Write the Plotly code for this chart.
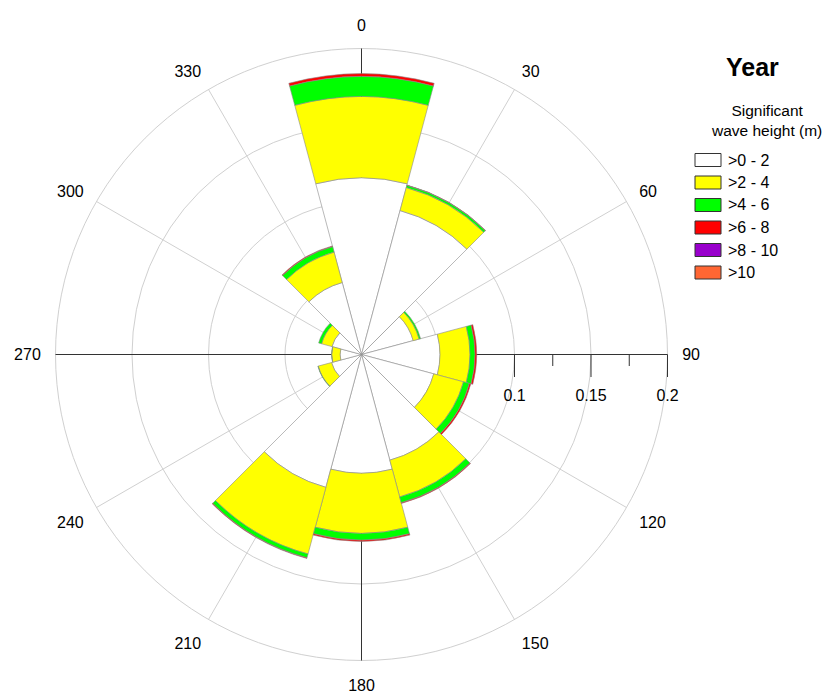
import plotly.graph_objects as go

# ---------------- data ----------------
directions = [0, 30, 60, 90, 120, 150, 180, 210, 240, 270, 300, 330]
direction_labels = ["0", "30", "60", "90", "120", "150", "180", "210", "240", "270", "300", "330"]

height_classes = [">0 - 2", ">2 - 4", ">4 - 6", ">6 - 8", ">8 - 10", ">10"]
class_colors = ["#FFFFFF", "#FFFF00", "#00FF00", "#FF0000", "#9900CC", "#FF6633"]

freq_0_2 = [0.1155, 0.0974, 0.0350, 0.0513, 0.0489, 0.0715, 0.0776, 0.0899, 0.0203, 0.0140, 0.0200, 0.0487]
freq_2_4 = [0.0531, 0.0156, 0.0040, 0.0196, 0.0201, 0.0249, 0.0393, 0.0451, 0.0090, 0.0055, 0.0070, 0.0206]
freq_4_6 = [0.0131, 0.0015, 0.0010, 0.0033, 0.0040, 0.0039, 0.0044, 0.0026, 0.0002, 0.0001, 0.0020, 0.0037]
freq_6_8 = [0.0018, 0.0002, 0.0000, 0.0011, 0.0010, 0.0005, 0.0009, 0.0004, 0.0000, 0.0000, 0.0000, 0.0005]
freq_8_10 = [0.0000] * 12
freq_10 = [0.0000] * 12
class_freqs = [freq_0_2, freq_2_4, freq_4_6, freq_6_8, freq_8_10, freq_10]

radial_max = 0.2
radial_major = [0, 0.05, 0.1, 0.15, 0.2]
radial_major_visible = [0.1, 0.15, 0.2]
radial_minor = [0.125, 0.175]

title_text = "Year"
legend_title = "Significant<br>wave height (m)"

# ---------------- geometry ----------------
W, H = 833, 693
cx, cy, R = 361.5, 354.5, 306.0
dom_x = [(cx - R) / W, (cx + R) / W]
dom_y = [(H - cy - R) / H, (H - cy + R) / H]


def px(x):
    return x / W


def py(y):
    return 1 - y / H


FONT = "Arial, Liberation Sans, sans-serif"
GRID = "#d0d0d0"
AX = "#333333"
CLEAR = "rgba(0,0,0,0)"

fig = go.Figure()

# empty carriers so the overlay polar layers get drawn
for sp in ["polar", "polar2"]:
    fig.add_trace(go.Scatterpolar(r=[0], theta=[0], mode="markers", subplot=sp,
                                  marker=dict(opacity=0, size=1), hoverinfo="skip",
                                  showlegend=False))

for name, col, vals in zip(height_classes, class_colors, class_freqs):
    fig.add_trace(go.Barpolar(
        r=vals, theta=directions, width=[30] * len(directions),
        name=name, subplot="polar3", showlegend=False,
        marker=dict(color=col, line=dict(color="#8a8a8a", width=0.6)),
    ))

fig.add_trace(go.Scatterpolar(r=[0], theta=[0], mode="markers", subplot="polar4",
                              marker=dict(opacity=0, size=1), hoverinfo="skip",
                              showlegend=False))

common_ang = dict(direction="clockwise", rotation=90)
hidden_ang = dict(**common_ang, showgrid=False, showline=False, ticks="", showticklabels=False)

fig.update_layout(
    width=W, height=H,
    margin=dict(l=0, r=0, t=0, b=0),
    paper_bgcolor="white",
    font=dict(family=FONT, size=16, color="black"),
    polar=dict(
        domain=dict(x=dom_x, y=dom_y),
        bgcolor="white",
        angularaxis=dict(
            **common_ang,
            tickmode="array", tickvals=directions, ticktext=direction_labels,
            showgrid=True, gridcolor=GRID, gridwidth=1,
            showline=True, linecolor=GRID, linewidth=1,
            ticks="outside", ticklen=11, tickcolor=CLEAR,
            tickfont=dict(family=FONT, size=16, color="black"),
        ),
        radialaxis=dict(
            range=[0, radial_max], tickmode="array", tickvals=radial_major[1:],
            showgrid=True, gridcolor=GRID, gridwidth=1,
            showline=False, ticks="", showticklabels=False,
        ),
    ),
    polar2=dict(
        domain=dict(x=dom_x, y=dom_y),
        bgcolor=CLEAR,
        angularaxis=dict(
            **common_ang,
            tickmode="array", tickvals=[0, 90, 180, 270],
            showgrid=True, gridcolor=AX, gridwidth=1.2,
            showline=False, ticks="", showticklabels=False,
        ),
        radialaxis=dict(
            range=[0, radial_max], angle=0, tickmode="array", tickvals=radial_minor,
            showgrid=False, showline=False, ticks="outside", ticklen=11,
            tickcolor=AX, tickwidth=1.2, showticklabels=False,
        ),
    ),
    polar3=dict(
        domain=dict(x=dom_x, y=dom_y),
        bgcolor=CLEAR,
        barmode="stack",
        angularaxis=hidden_ang,
        radialaxis=dict(
            range=[0, radial_max], angle=0, layer="below traces",
            tickmode="array", tickvals=radial_major,
            ticktext=[str(v) for v in radial_major],
            showgrid=False, showline=True, linecolor=AX, linewidth=1.2,
            ticks="outside", ticklen=27, tickcolor=CLEAR,
            tickfont=dict(family=FONT, size=16, color="black"),
        ),
    ),
    polar4=dict(
        domain=dict(x=dom_x, y=dom_y),
        bgcolor=CLEAR,
        angularaxis=hidden_ang,
        radialaxis=dict(
            range=[0, radial_max], angle=0, tickmode="array", tickvals=radial_major_visible,
            showgrid=False, showline=False, ticks="outside", ticklen=22,
            tickcolor=AX, tickwidth=1.2, showticklabels=False,
        ),
    ),
)

# ---------------- custom legend ----------------
ann = [
    dict(text="<b>" + title_text + "</b>", x=px(752), y=py(67), xref="paper", yref="paper",
         showarrow=False, font=dict(size=25, family=FONT, color="black"), xanchor="center", yanchor="middle"),
    dict(text=legend_title, x=px(766), y=py(120), xref="paper", yref="paper",
         showarrow=False, font=dict(size=15.5, family=FONT, color="black"), xanchor="center", yanchor="middle"),
]
shapes = []
row0, step = 160.0, 22.5
for i, (name, col) in enumerate(zip(height_classes, class_colors)):
    yc = row0 + i * step
    shapes.append(dict(type="rect", xref="paper", yref="paper",
                       x0=px(695), x1=px(721), y0=py(yc - 6.5), y1=py(yc + 6.5),
                       fillcolor=col, line=dict(color=AX, width=1)))
    ann.append(dict(text=name.replace(">", "&gt;"), x=px(726), y=py(yc), xref="paper", yref="paper",
                    showarrow=False, xanchor="left", yanchor="middle",
                    font=dict(size=16, family=FONT, color="black")))

fig.update_layout(annotations=ann, shapes=shapes)

fig.write_html("out.html", config={"displayModeBar": False},
               post_script="document.body.style.margin='0';")
